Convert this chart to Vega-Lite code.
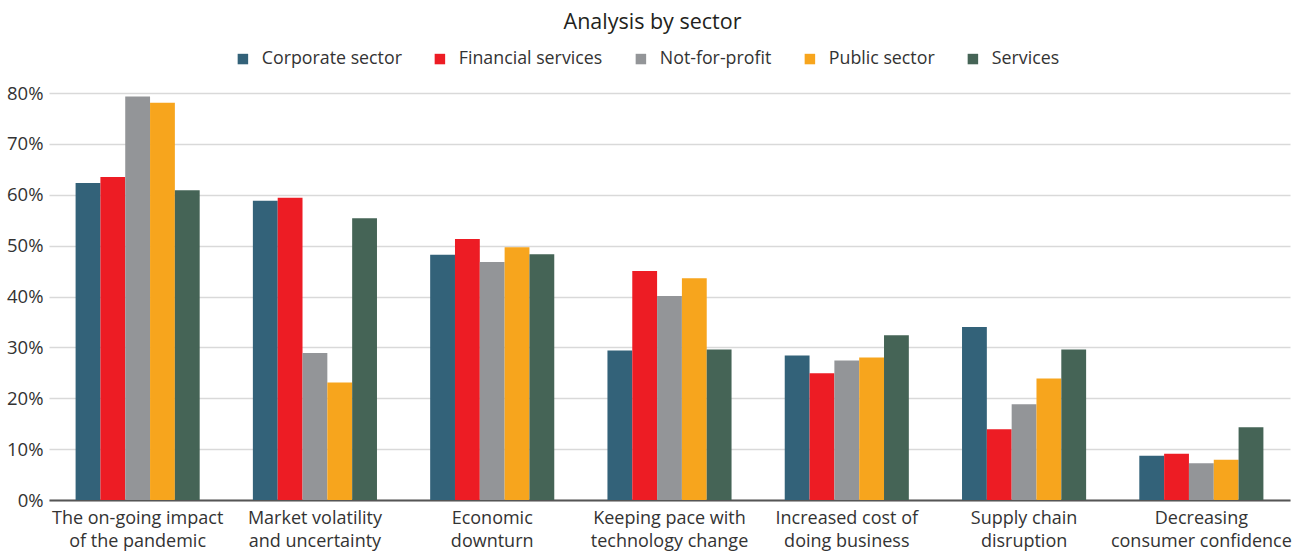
{
  "$schema": "https://vega.github.io/schema/vega-lite/v6.json",
  "width": 1241,
  "height": 407,
  "autosize": {"type": "none"},
  "padding": {"left": 49, "top": 93, "right": 15, "bottom": 53},
  "background": "white",
  "title": {"text": "Analysis by sector", "font": "Open Sans", "fontSize": 21.5, "fontWeight": 400, "color": "#231f20", "anchor": "middle", "offset": 17, "dx": -17},
  "data": {"values": [
    {"cat": "The on-going impact\nof the pandemic", "sector": "Corporate sector", "v": 62.3},
    {"cat": "The on-going impact\nof the pandemic", "sector": "Financial services", "v": 63.5},
    {"cat": "The on-going impact\nof the pandemic", "sector": "Not-for-profit", "v": 79.3},
    {"cat": "The on-going impact\nof the pandemic", "sector": "Public sector", "v": 78.1},
    {"cat": "The on-going impact\nof the pandemic", "sector": "Services", "v": 60.9},
    {"cat": "Market volatility\nand uncertainty", "sector": "Corporate sector", "v": 58.8},
    {"cat": "Market volatility\nand uncertainty", "sector": "Financial services", "v": 59.4},
    {"cat": "Market volatility\nand uncertainty", "sector": "Not-for-profit", "v": 28.9},
    {"cat": "Market volatility\nand uncertainty", "sector": "Public sector", "v": 23.1},
    {"cat": "Market volatility\nand uncertainty", "sector": "Services", "v": 55.4},
    {"cat": "Economic\ndownturn", "sector": "Corporate sector", "v": 48.2},
    {"cat": "Economic\ndownturn", "sector": "Financial services", "v": 51.3},
    {"cat": "Economic\ndownturn", "sector": "Not-for-profit", "v": 46.8},
    {"cat": "Economic\ndownturn", "sector": "Public sector", "v": 49.7},
    {"cat": "Economic\ndownturn", "sector": "Services", "v": 48.3},
    {"cat": "Keeping pace with\ntechnology change", "sector": "Corporate sector", "v": 29.4},
    {"cat": "Keeping pace with\ntechnology change", "sector": "Financial services", "v": 45.0},
    {"cat": "Keeping pace with\ntechnology change", "sector": "Not-for-profit", "v": 40.1},
    {"cat": "Keeping pace with\ntechnology change", "sector": "Public sector", "v": 43.6},
    {"cat": "Keeping pace with\ntechnology change", "sector": "Services", "v": 29.6},
    {"cat": "Increased cost of\ndoing business", "sector": "Corporate sector", "v": 28.4},
    {"cat": "Increased cost of\ndoing business", "sector": "Financial services", "v": 24.9},
    {"cat": "Increased cost of\ndoing business", "sector": "Not-for-profit", "v": 27.4},
    {"cat": "Increased cost of\ndoing business", "sector": "Public sector", "v": 28.0},
    {"cat": "Increased cost of\ndoing business", "sector": "Services", "v": 32.4},
    {"cat": "Supply chain\ndisruption", "sector": "Corporate sector", "v": 34.0},
    {"cat": "Supply chain\ndisruption", "sector": "Financial services", "v": 13.9},
    {"cat": "Supply chain\ndisruption", "sector": "Not-for-profit", "v": 18.8},
    {"cat": "Supply chain\ndisruption", "sector": "Public sector", "v": 23.9},
    {"cat": "Supply chain\ndisruption", "sector": "Services", "v": 29.6},
    {"cat": "Decreasing\nconsumer confidence", "sector": "Corporate sector", "v": 8.7},
    {"cat": "Decreasing\nconsumer confidence", "sector": "Financial services", "v": 9.1},
    {"cat": "Decreasing\nconsumer confidence", "sector": "Not-for-profit", "v": 7.2},
    {"cat": "Decreasing\nconsumer confidence", "sector": "Public sector", "v": 7.9},
    {"cat": "Decreasing\nconsumer confidence", "sector": "Services", "v": 14.3}
  ]},
  "mark": {"type": "bar"},
  "encoding": {
    "x": {
      "field": "cat", "type": "nominal", "sort": null, "title": null,
      "scale": {"paddingInner": 0.3, "paddingOuter": 0.15},
      "axis": {
        "labelAngle": 0, "labelFont": "Open Sans", "labelFontSize": 18, "labelColor": "#333333",
        "labelExpr": "split(datum.label, '\\n')", "labelLineHeight": 23, "labelPadding": 9,
        "ticks": false, "domainColor": "#555555", "domainWidth": 2, "labelLimit": 300
      }
    },
    "xOffset": {"field": "sector", "type": "nominal", "sort": null, "scale": {"paddingInner": 0, "paddingOuter": 0}},
    "y": {
      "field": "v", "type": "quantitative", "title": null,
      "scale": {"domain": [0, 80], "nice": false},
      "axis": {
        "values": [0, 10, 20, 30, 40, 50, 60, 70, 80], "labelExpr": "datum.value + '%'",
        "labelFont": "Open Sans", "labelFontSize": 18.5, "labelColor": "#333333", "labelPadding": 6,
        "ticks": false, "domain": false, "gridColor": "#d9d9d9", "gridWidth": 1.5
      }
    },
    "color": {
      "field": "sector", "type": "nominal", "sort": null,
      "scale": {
        "domain": ["Corporate sector", "Financial services", "Not-for-profit", "Public sector", "Services"],
        "range": ["#336279", "#ED1C24", "#939598", "#F7A51D", "#456456"]
      },
      "legend": {
        "orient": "none", "legendX": 185, "legendY": -43, "direction": "horizontal", "title": null,
        "labelFont": "Open Sans", "labelFontSize": 17.8, "labelColor": "#333333",
        "symbolType": "square", "symbolSize": 110, "symbolStrokeWidth": 0,
        "columnPadding": 29, "labelOffset": 10
      }
    }
  },
  "config": {
    "view": {"stroke": null}
  }
}
